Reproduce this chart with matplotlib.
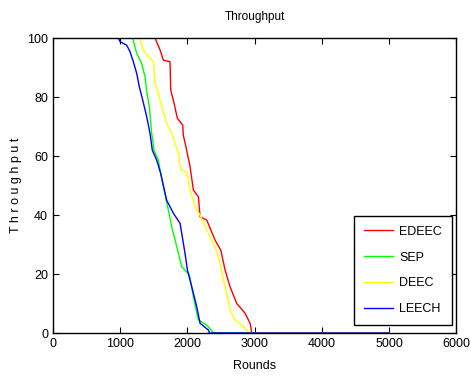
import matplotlib
matplotlib.use('Agg')
import matplotlib.pyplot as plt

# ===== DATI =====
edeec_r = [0, 1519, 1593, 1643, 1742, 1752, 1802, 1851, 1931, 1940, 1980, 2040, 2089, 2164,
           2189, 2288, 2412, 2497, 2561, 2635, 2735, 2859, 2933, 2958, 5000]
edeec_v = [100, 100, 96, 92.5, 92, 82.4, 77.9, 72.8, 70.5, 67, 63, 56.4, 48.5, 46.2,
           39.4, 38.3, 31.5, 28.1, 21.4, 15.7, 10, 6.7, 3.3, 0, 0]

sep_r = [0, 1186, 1246, 1320, 1370, 1395, 1434, 1469, 1504, 1568, 1603, 1653, 1717, 1767,
         1842, 1916, 2030, 2089, 2164, 2288, 2377, 2400, 5000]
sep_v = [100, 100, 94.8, 91.4, 86.9, 81.8, 76.7, 67.7, 62, 58.6, 54.1, 48.5, 41.7, 36,
         29.3, 22.5, 19.7, 12.3, 4.4, 2.7, 0.4, 0, 0]

deec_r = [0, 1285, 1344, 1419, 1494, 1519, 1553, 1593, 1633, 1692, 1767, 1816, 1866, 1901,
          1990, 2040, 2114, 2189, 2288, 2412, 2486, 2536, 2596, 2635, 2710, 2809, 2908, 2930, 5000]
deec_v = [100, 100, 96, 93.7, 92, 84.6, 82.4, 79, 75.6, 71, 67.7, 64.3, 61, 55.3,
          54.7, 48.5, 42.8, 40, 34.9, 29.3, 23.6, 18, 12.3, 7.8, 4.4, 2.7, 0.4, 0, 0]

leech_r = [0, 972, 997, 1097, 1146, 1196, 1246, 1285, 1335, 1395, 1444, 1478, 1544, 1603,
           1692, 1792, 1891, 1965, 2000, 2065, 2139, 2189, 2313, 2330, 5000]
leech_v = [100, 100, 98.8, 97.6, 95.4, 92, 88, 83.5, 79, 73.3, 67.7, 62, 58.6, 54.1,
           45, 40.6, 37.2, 27, 21.4, 15.7, 8.9, 3.3, 1, 0, 0]

x_ticks = [0, 1000, 2000, 3000, 4000, 5000, 6000]
y_ticks = [0, 20, 40, 60, 80, 100]

plt.rcParams['font.family'] = ['Liberation Sans', 'DejaVu Sans']

fig = plt.figure(figsize=(4.71, 3.83), dpi=100)
ax = fig.add_axes([0.1125, 0.1305, 0.856, 0.770])

ax.plot(edeec_r, edeec_v, color='red', linewidth=1, label='EDEEC')
ax.plot(sep_r, sep_v, color='#00ff00', linewidth=1, label='SEP')
ax.plot(deec_r, deec_v, color='yellow', linewidth=1, label='DEEC')
ax.plot(leech_r, leech_v, color='blue', linewidth=1, label='LEECH')

ax.set_xlim(0, 6000)
ax.set_ylim(0, 100)
ax.set_xticks(x_ticks)
ax.set_yticks(y_ticks)
ax.tick_params(direction='in', top=True, right=True, labelsize=9, length=4)
for s in ax.spines.values():
    s.set_linewidth(1)

ax.set_title('Throughput', fontsize=8.5, pad=13)
ax.set_xlabel('Rounds', fontsize=9, labelpad=7)
ax.set_ylabel('T h r o u g h p u t', fontsize=9)

# legenda in basso a destra
leg = ax.legend(loc='lower right', fontsize=9, fancybox=False, framealpha=1,
                edgecolor='black', handlelength=2.3, handletextpad=0.5,
                labelspacing=1.1, borderpad=0.8, borderaxespad=0,
                bbox_to_anchor=(0.99, 0.027))
leg.get_frame().set_linewidth(1)

fig.savefig('out.png', dpi=100)
